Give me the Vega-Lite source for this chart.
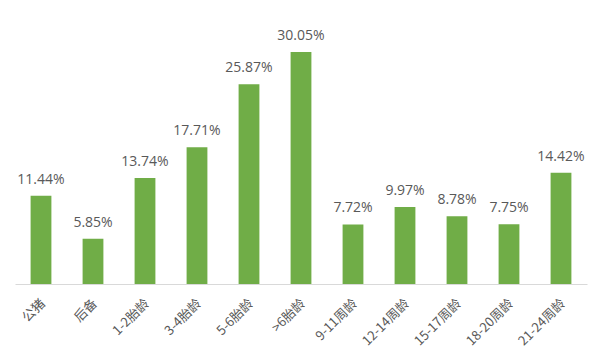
{
  "$schema": "https://vega.github.io/schema/vega-lite/v6.json",
  "autosize": "none",
  "width": 572,
  "height": 232,
  "padding": {"left": 15, "top": 52, "right": 13, "bottom": 77},
  "background": "white",
  "data": {"values": [
    {"cat": "公猪", "v": 11.44, "label": "11.44%"},
    {"cat": "后备", "v": 5.85, "label": "5.85%"},
    {"cat": "1-2胎龄", "v": 13.74, "label": "13.74%"},
    {"cat": "3-4胎龄", "v": 17.71, "label": "17.71%"},
    {"cat": "5-6胎龄", "v": 25.87, "label": "25.87%"},
    {"cat": ">6胎龄", "v": 30.05, "label": "30.05%"},
    {"cat": "9-11周龄", "v": 7.72, "label": "7.72%"},
    {"cat": "12-14周龄", "v": 9.97, "label": "9.97%"},
    {"cat": "15-17周龄", "v": 8.78, "label": "8.78%"},
    {"cat": "18-20周龄", "v": 7.75, "label": "7.75%"},
    {"cat": "21-24周龄", "v": 14.42, "label": "14.42%"}
  ]},
  "config": {"view": {"stroke": null}, "font": "Noto Sans CJK SC"},
  "encoding": {
    "x": {"field": "cat", "type": "nominal", "sort": null,
      "scale": {"paddingInner": 0.6, "paddingOuter": 0.3},
      "axis": {"title": null, "labelAngle": -45, "labelAlign": "right", "labelBaseline": "middle",
        "labelFontSize": 13, "labelColor": "#595959", "labelPadding": 17, "labelOffset": 2,
        "ticks": false, "domainColor": "#D9D9D9", "domainWidth": 1}},
    "y": {"field": "v", "type": "quantitative", "scale": {"domain": [0, 30.05], "nice": false}, "axis": null}
  },
  "layer": [
    {"mark": {"type": "bar", "color": "#70AD47"}},
    {"mark": {"type": "text", "dy": -16, "fontSize": 14, "color": "#595959", "font": "Open Sans"},
      "encoding": {"text": {"field": "label", "type": "nominal"}}}
  ]
}
